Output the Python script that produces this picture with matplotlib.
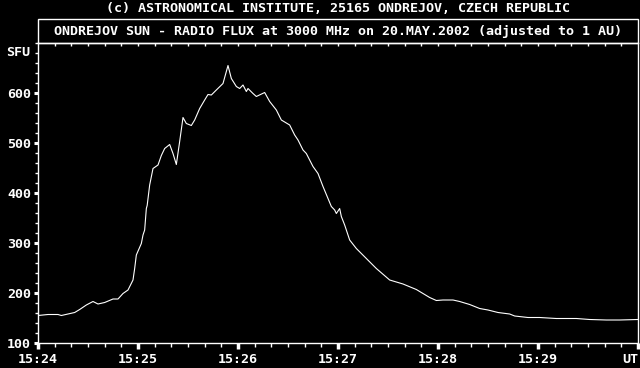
import matplotlib
matplotlib.use("Agg")
import matplotlib.pyplot as plt
from matplotlib.patches import Rectangle
import numpy as np

# seconds after 15:24:00 UT
seconds = [0, 6, 12, 14, 18, 22, 25, 29, 33, 36, 40, 45, 48, 51, 54, 57, 58, 59,
           62, 63, 64, 65, 65.5, 67, 69, 72, 74, 76, 79, 81, 83, 85, 87, 89, 92,
           94, 97, 100, 102, 104, 107, 111, 114, 116, 119, 121, 123, 125, 126,
           129, 131, 136, 139, 143, 146, 151, 154, 156, 159, 161, 165, 168, 171,
           174, 176, 178, 179, 181, 182, 184, 187, 191, 197, 203, 211, 219, 227,
           229, 235, 239, 243, 249, 253, 259, 265, 270, 276, 283, 286, 294, 301,
           311, 323, 331, 341, 349, 360]
flux_sfu = [155, 157, 157, 155, 158, 161, 167, 176, 183, 178, 181, 188, 188, 199,
            206, 226, 249, 276, 299, 316, 326, 369, 375, 416, 449, 456, 475, 489,
            497, 479, 457, 503, 551, 539, 535, 546, 569, 586, 597, 596, 606, 619,
            655, 629, 613, 609, 616, 603, 609, 599, 593, 601, 583, 566, 546, 536,
            516, 506, 486, 479, 453, 439, 413, 389, 373, 366, 359, 369, 353, 336,
            306, 289, 269, 249, 226, 218, 207, 203, 191, 185, 186, 186, 183, 177,
            169, 166, 161, 158, 154, 151, 151, 149, 149, 147, 146, 146, 147]

x_tick_pos = [0, 60, 120, 180, 240, 300, 360]
x_tick_labels = ["15:24", "15:25", "15:26", "15:27", "15:28", "15:29", "UT"]
y_tick_pos = [100, 200, 300, 400, 500, 600]
y_tick_labels = ["100", "200", "300", "400", "500", "600"]

title_top = "(c) ASTRONOMICAL INSTITUTE, 25165 ONDREJOV, CZECH REPUBLIC"
title_box = "ONDREJOV SUN - RADIO FLUX at 3000 MHz on 20.MAY.2002 (adjusted to 1 AU)"

W, H = 640, 368
fig = plt.figure(figsize=(W / 100, H / 100), dpi=100, facecolor="black")
font = dict(family="DejaVu Sans Mono", weight="bold", size=9.6, color="white")

L, R, T, B = 38, 638, 43, 343
ax = fig.add_axes([L / W, 1 - B / H, (R - L) / W, (B - T) / H], facecolor="black")
ax.plot(seconds, flux_sfu, color="white", lw=0.8, antialiased=True)
ax.set_xlim(0, 360)
ax.set_ylim(100, 700)

for s in ax.spines.values():
    s.set_color("white")
    s.set_linewidth(1.0)

ax.set_xticks(x_tick_pos)
ax.set_xticklabels(x_tick_labels, **font)
ax.get_xticklabels()[-1].set_horizontalalignment("right")
ax.set_xticks(np.arange(0, 361, 10), minor=True)
ax.set_yticks(y_tick_pos)
ax.set_yticklabels(y_tick_labels, **font)
ax.set_yticks(np.arange(100, 701, 20), minor=True)
ax.tick_params(axis="x", which="major", direction="out", length=4, width=2.5,
               color="white", pad=3, top=False)
ax.tick_params(axis="x", which="minor", direction="out", length=3, width=1,
               color="white", top=False)
ax.tick_params(axis="y", which="major", direction="out", length=3, width=2.2,
               color="white", pad=2, right=False)
ax.tick_params(axis="y", which="minor", direction="out", length=2, width=1,
               color="white", right=False)

# inward ticks along the top edge
secax = ax.secondary_xaxis("top")
secax.set_xticks(np.arange(10, 360, 10))
secax.set_xticklabels([])
secax.tick_params(direction="in", length=2, width=1, color="white")
secax.spines["top"].set_visible(False)

ax.text(-0.013, 680, "SFU", transform=ax.get_yaxis_transform(),
        ha="right", va="center", **font)

# title box
fig.patches.append(Rectangle((L / W, 1 - T / H), (R - L) / W, (T - 19) / H,
                             transform=fig.transFigure, fill=False,
                             edgecolor="white", lw=1.0))
fig.text((L + R) / 2 / W, 1 - 31 / H, title_box, ha="center", va="center", **font)
fig.text((L + R) / 2 / W, 1 - 8 / H, title_top, ha="center", va="center", **font)

fig.savefig("out.png", dpi=100, facecolor="black")
